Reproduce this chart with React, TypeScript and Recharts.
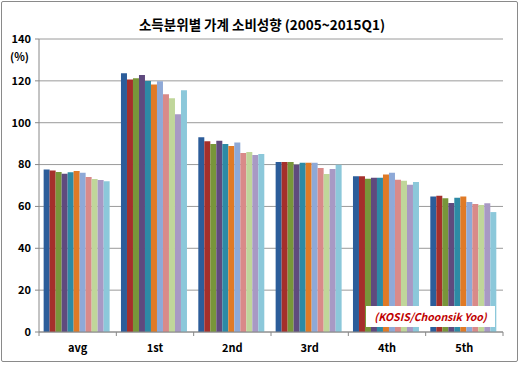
import React from 'react';
import { BarChart, Bar, XAxis, YAxis, CartesianGrid } from 'recharts';

// 소득분위별 가계 소비성향 (%)
const categories = ['avg', '1st', '2nd', '3rd', '4th', '5th'];
const years = ['2005', '2006', '2007', '2008', '2009', '2010', '2011', '2012', '2013', '2014', '2015Q1'];

const y2005 = [77.7, 123.6, 93.0, 81.2, 74.4, 64.8];
const y2006 = [77.2, 120.7, 91.1, 81.2, 74.4, 65.1];
const y2007 = [76.4, 121.2, 89.8, 81.2, 73.2, 63.9];
const y2008 = [75.6, 122.8, 91.4, 79.9, 73.7, 61.6];
const y2009 = [76.3, 119.9, 89.8, 80.9, 73.7, 64.2];
const y2010 = [76.9, 118.2, 88.9, 80.9, 75.3, 64.8];
const y2011 = [76.1, 119.8, 90.5, 80.9, 76.1, 62.1];
const y2012 = [74.1, 113.6, 85.5, 78.4, 72.8, 61.2];
const y2013 = [73.1, 111.7, 86.0, 75.5, 72.3, 60.7];
const y2014 = [72.6, 104.0, 84.6, 77.9, 70.4, 61.5];
const y2015Q1 = [72.0, 115.5, 85.0, 79.9, 71.7, 57.3];

const yTicks = [0, 20, 40, 60, 80, 100, 120, 140];

const series = [y2005, y2006, y2007, y2008, y2009, y2010, y2011, y2012, y2013, y2014, y2015Q1];

const COLORS = [
  '#2C5D9A', '#A52F2B', '#78963A', '#5F4A7E', '#2D8AA5', '#E07A26',
  '#8EA9D7', '#D98A89', '#C0D69A', '#A899C4', '#8CC8DA',
];

const data = categories.map((name, i) => {
  const row: any = { name };
  years.forEach((y, j) => {
    row[y] = series[j][i];
  });
  return row;
});

const W = 520;
const H = 365;
const MARGIN = { top: 39, right: 17, bottom: 0, left: 0 };
const Y_WIDTH = 39;
const HALF_BAND = (W - MARGIN.left - MARGIN.right - Y_WIDTH) / categories.length / 2;

const FONT = '"Noto Sans CJK KR", "Noto Sans", sans-serif';

const CategoryTick = ({ x, y, payload, index }: any) => (
  <g>
    <line x1={x - HALF_BAND} y1={y - 8} x2={x - HALF_BAND} y2={y - 4} stroke="#888" />
    {index === categories.length - 1 && (
      <line x1={x + HALF_BAND} y1={y - 8} x2={x + HALF_BAND} y2={y - 4} stroke="#888" />
    )}
    <text
      x={x}
      y={y + 12}
      textAnchor="middle"
      fontSize={11}
      fontWeight="bold"
      fill="#000"
      fontFamily={FONT}
    >
      {payload.value}
    </text>
  </g>
);

export default function App() {
  return (
    <div style={{ position: 'absolute', left: 0, top: 0, width: W, height: H, background: '#fff', fontFamily: FONT }}>
      <div
        style={{
          position: 'absolute', left: 1, top: 1, width: W - 5, height: H - 6,
          border: '1px solid #8a8a8a', borderRadius: 2,
        }}
      />
      <div
        style={{
          position: 'absolute', left: 0, top: 14, width: W + 4, textAlign: 'center',
          fontSize: 13.5, fontWeight: 'bold', color: '#000',
        }}
      >
        소득분위별 가계 소비성향 (2005~2015Q1)
      </div>
      <div style={{ position: 'absolute', left: 10, top: 48, fontSize: 11, fontWeight: 'bold' }}>(%)</div>
      <BarChart
        width={W}
        height={H}
        data={data}
        margin={MARGIN}
        barCategoryGap="6%"
        barGap={0}
        style={{ position: 'absolute', left: 0, top: 0 }}
      >
        <CartesianGrid vertical={false} stroke="#9a9a9a" />
        <XAxis
          dataKey="name"
          height={33}
          stroke="#888"
          tickLine={false}
          tick={<CategoryTick />}
          interval={0}
        />
        <YAxis
          width={Y_WIDTH}
          domain={[0, 140]}
          ticks={yTicks}
          stroke="#888"
          tickSize={4}
          tickMargin={4}
          tick={{ fontSize: 11, fontWeight: 'bold', fill: '#000', fontFamily: FONT }}
        />
        {years.map((y, j) => (
          <Bar key={y} dataKey={y} fill={COLORS[j]} isAnimationActive={false} />
        ))}
      </BarChart>
      <div
        style={{
          position: 'absolute', left: 366, top: 306, width: 129, height: 21,
          background: '#fff', color: '#C00000', fontSize: 10.5, fontWeight: 'bold',
          fontStyle: 'italic', lineHeight: '21px', textAlign: 'center',
        }}
      >
        (KOSIS/Choonsik Yoo)
      </div>
    </div>
  );
}
